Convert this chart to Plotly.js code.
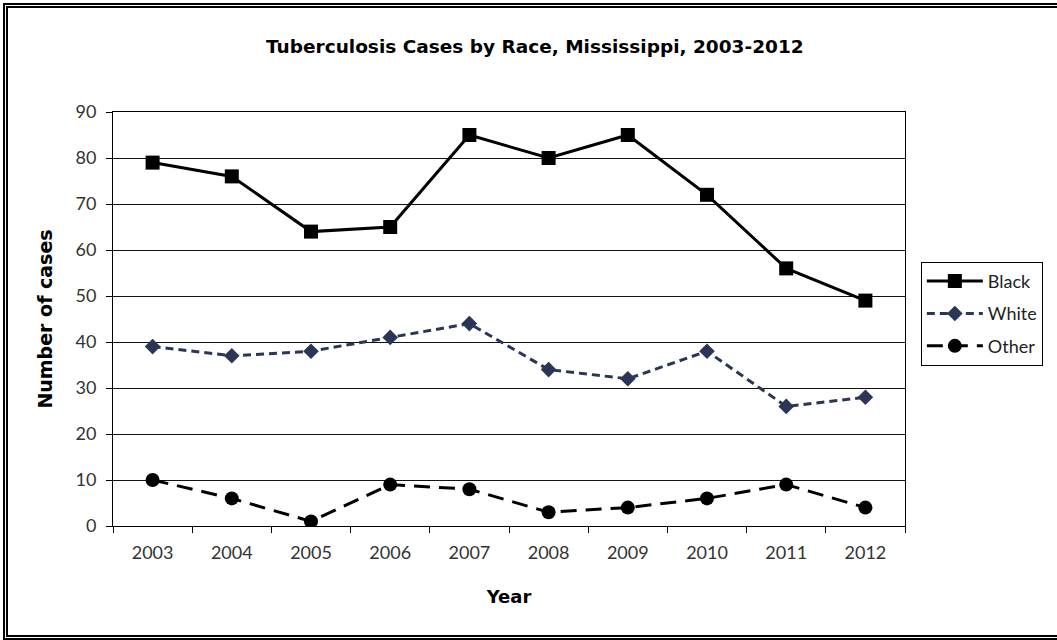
<!DOCTYPE html>
<html>
<head>
<meta charset="utf-8">
<script src="https://cdn.plot.ly/plotly-3.0.1.min.js"></script>
<style>
  html, body { margin: 0; padding: 0; background: #fff; overflow: hidden; }
  #wrap { position: relative; width: 1057px; height: 640px; overflow: hidden; }
  #chart { position: absolute; left: 0; top: 0; width: 1057px; height: 640px; }
  #frame { position: absolute; left: 3px; top: 3px; width: 1070px; height: 627px;
           border: 5px double #000; pointer-events: none; }
</style>
</head>
<body>
<div id="wrap">
  <div id="chart"></div>
  <div id="frame"></div>
</div>
<script>
const years = ["2003","2004","2005","2006","2007","2008","2009","2010","2011","2012"];
const black = [79, 76, 64, 65, 85, 80, 85, 72, 56, 49];
const white = [39, 37, 38, 41, 44, 34, 32, 38, 26, 28];
const other = [10, 6, 1, 9, 8, 3, 4, 6, 9, 4];
const yTicks = [0, 10, 20, 30, 40, 50, 60, 70, 80, 90];

const FONT = "Lato, 'Liberation Sans', sans-serif";
const TFONT = "'DejaVu Sans', sans-serif";

const traces = [
  { x: years, y: black, name: "Black", type: "scatter", mode: "lines+markers", legendgroup: "a",
    line: { color: "#000", width: 3 },
    marker: { symbol: "square", size: 14, color: "#000" } },
  { x: years, y: white, name: "White", type: "scatter", mode: "lines+markers", legendgroup: "b",
    line: { color: "#2b3656", width: 3, dash: "8px,5px" },
    marker: { symbol: "diamond", size: 12, color: "#2b3656" } },
  { x: years, y: other, name: "Other", type: "scatter", mode: "lines+markers", legendgroup: "c",
    line: { color: "#000", width: 3, dash: "16px,9px" },
    marker: { symbol: "circle", size: 14, color: "#000" } }
];

const layout = {
  width: 1057, height: 640,
  margin: { l: 113, r: 152, t: 112, b: 114 },
  paper_bgcolor: "#fff", plot_bgcolor: "#fff",
  font: { family: FONT, color: "#333", size: 16 },
  title: { text: "Tuberculosis Cases by Race, Mississippi, 2003-2012",
           font: { family: TFONT, size: 18.5, color: "#000", weight: 600 },
           x: 0.506, xanchor: "center", y: 0.927, yanchor: "middle" },
  xaxis: {
    type: "category", range: [-0.5, 9.5],
    tickson: "boundaries", ticks: "outside", ticklen: 6, tickcolor: "#000",
    showgrid: false, showline: true, linecolor: "#000", linewidth: 1, mirror: true,
    zeroline: false, ticklabelstandoff: 10,
    tickfont: { family: FONT, size: 18, color: "#333" },
    title: { text: "Year", font: { family: TFONT, size: 18, color: "#000", weight: 700 }, standoff: 28 }
  },
  yaxis: {
    range: [0, 90], tickvals: yTicks, ticktext: yTicks.map(String),
    ticks: "outside", ticklen: 6, tickcolor: "#000",
    showgrid: true, gridcolor: "#111", gridwidth: 1,
    showline: true, linecolor: "#000", linewidth: 1, mirror: true,
    zeroline: false, ticklabelstandoff: 6,
    tickfont: { family: FONT, size: 18, color: "#333" },
    title: { text: "Number of cases", font: { family: TFONT, size: 19, color: "#000", weight: 700 }, standoff: 17 }
  },
  showlegend: true,
  legend: {
    x: 1.02, xanchor: "left", y: 0.638, yanchor: "top",
    bordercolor: "#000", borderwidth: 1, bgcolor: "#fff",
    font: { family: FONT, size: 18, color: "#222" },
    tracegroupgap: 6, itemwidth: 56
  }
};

Plotly.newPlot("chart", traces, layout, { displayModeBar: false, staticPlot: true });
</script>
</body>
</html>
